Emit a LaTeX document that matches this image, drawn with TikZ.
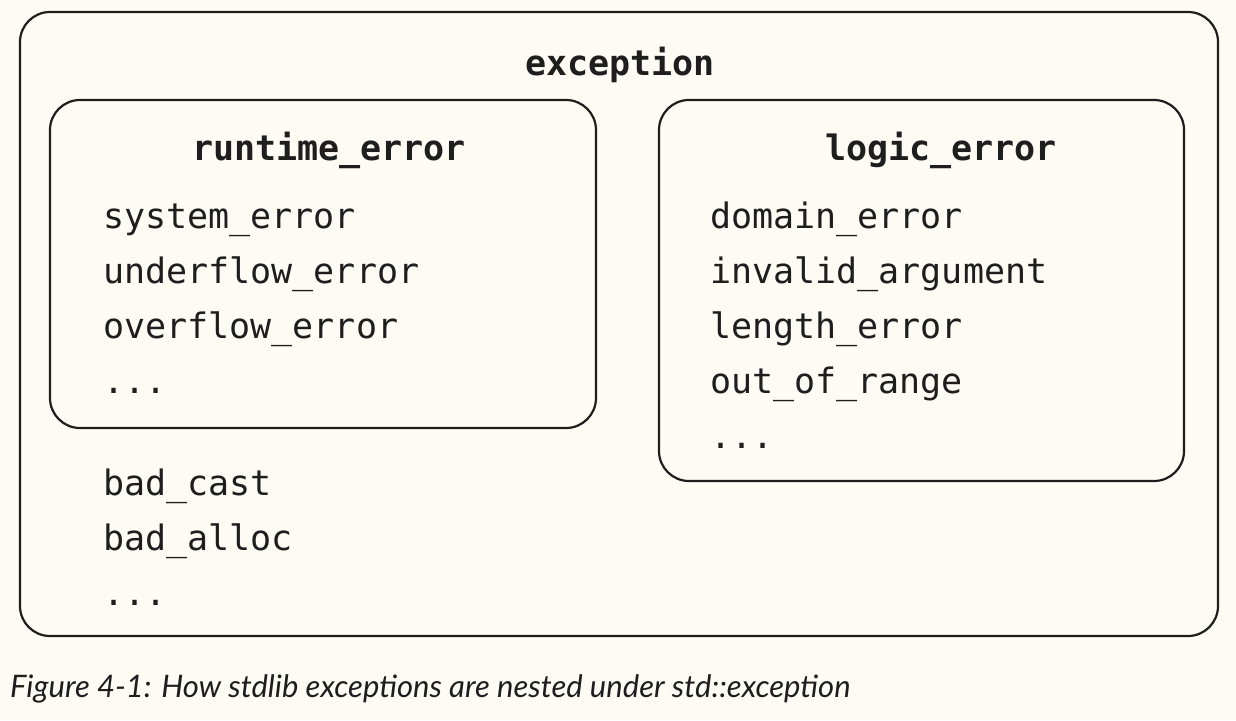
\documentclass[tikz,border=0pt]{standalone}
\usepackage{fontspec}
\setmonofont{DejaVu Sans Mono}
\newfontfamily\capfont{Lato}
\definecolor{cream}{RGB}{253,251,243}
\definecolor{ink}{RGB}{30,30,30}
\begin{document}
\begin{tikzpicture}[x=1pt,y=-1pt,
  box/.style={draw=ink,line width=2.2pt,rounded corners=30pt},
  code/.style={inner sep=0pt,anchor=base west,font=\fontsize{35}{35}\selectfont\ttfamily,text=ink},
  head/.style={inner sep=0pt,anchor=base,font=\fontsize{35}{35}\selectfont\ttfamily\bfseries,text=ink},
  captext/.style={inner sep=0pt,anchor=base west,font=\fontsize{31}{31}\selectfont\capfont\itshape,text=ink}]
\fill[cream] (0,0) rectangle (1236,720);
\useasboundingbox (0,0) rectangle (1236,720);
\draw[box] (20,12) rectangle (1218,636);
\draw[box] (50,100) rectangle (596,428);
\draw[box] (659,100) rectangle (1184,481);
\node[head] (exc) at (620,75) {exception};
\node[head] (rt) at (329,160) {runtime\_error};
\node[head] (lg) at (941,160) {logic\_error};
\node[code] (r1) at (103,228) {system\_error};
\node[code] (r2) at (103,283) {underflow\_error};
\node[code] (r3) at (103,338) {overflow\_error};
\node[code] (r4) at (103,393) {...};
\node[code] (l1) at (710,228) {domain\_error};
\node[code] (l2) at (710,283) {invalid\_argument};
\node[code] (l3) at (710,338) {length\_error};
\node[code] (l4) at (710,393) {out\_of\_range};
\node[code] (l5) at (710,448) {...};
\node[code] (b1) at (103,495) {bad\_cast};
\node[code] (b2) at (103,550) {bad\_alloc};
\node[code] (b3) at (103,605) {...};
\node[captext] (caption) at (10,697) {Figure 4-1: How stdlib exceptions are nested under std::exception};
\end{tikzpicture}
\end{document}
